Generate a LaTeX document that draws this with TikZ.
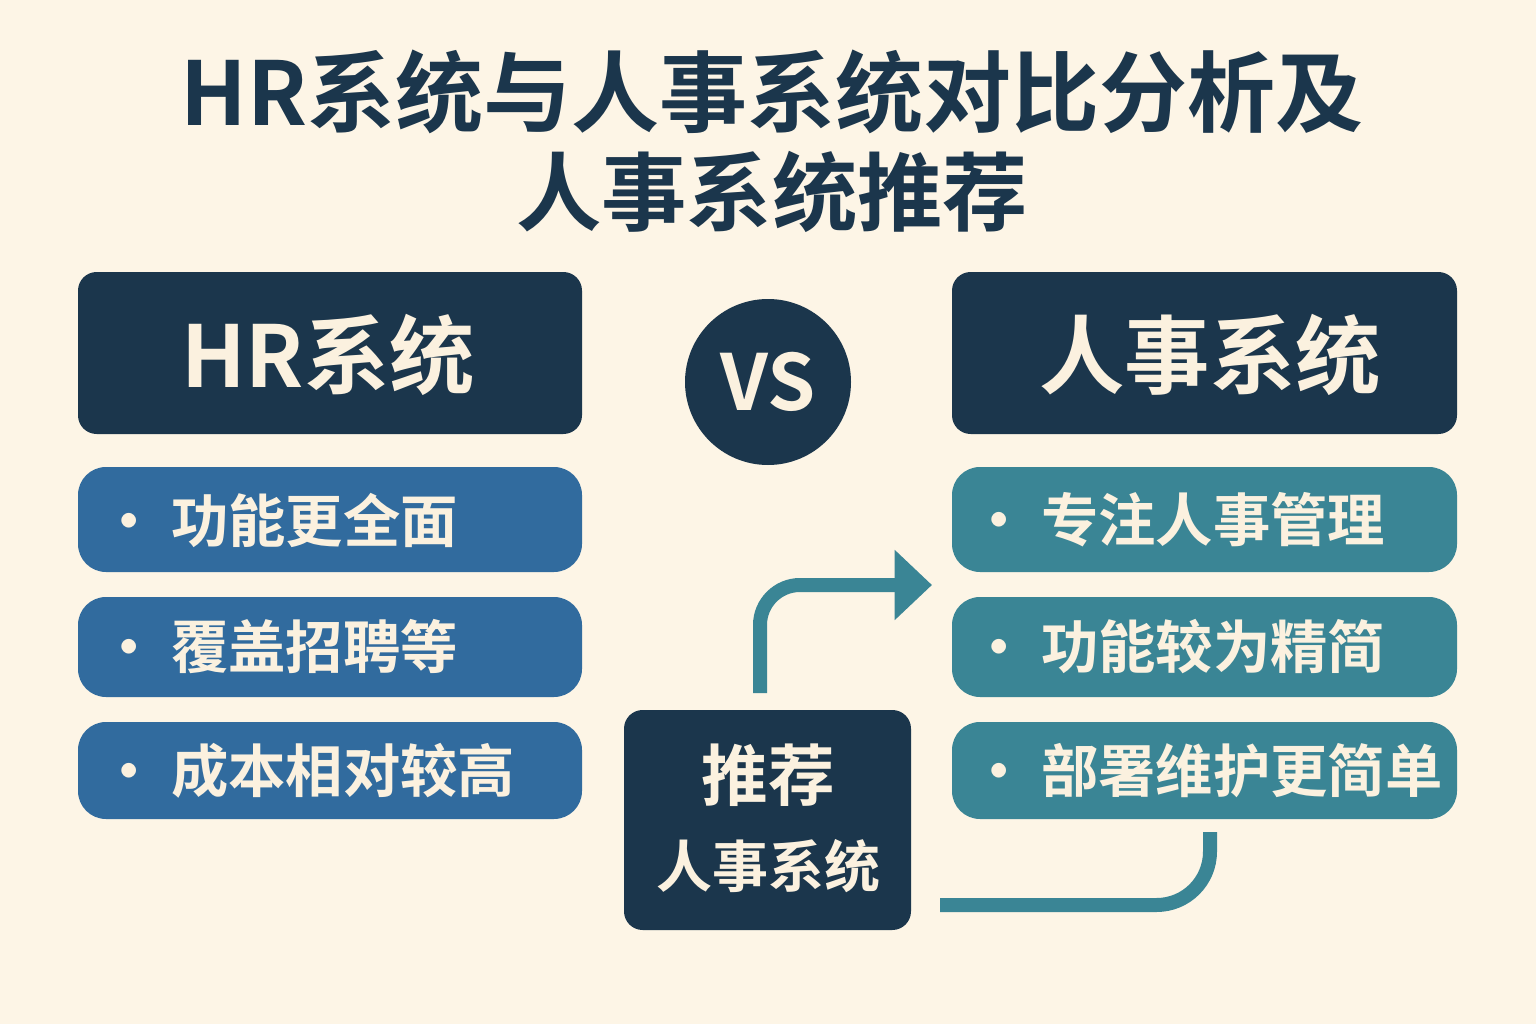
\documentclass[tikz,border=0pt]{standalone}
\usepackage{fontspec}
\setmainfont{Noto Sans CJK SC Bold}
\usetikzlibrary{arrows.meta}
\definecolor{bg}{HTML}{FDF5E6}
\definecolor{navy}{HTML}{1B364C}
\definecolor{blueb}{HTML}{316B9E}
\definecolor{tealb}{HTML}{3A8595}
\definecolor{cream}{HTML}{FBF1DF}
\tikzset{
  hdr/.style={fill=navy,rounded corners=14pt},
  itemL/.style={fill=blueb,rounded corners=21pt},
  itemR/.style={fill=tealb,rounded corners=21pt},
  itxt/.style={anchor=west,text=cream,font=\fontsize{43}{50}\selectfont},
  conn/.style={draw=tealb,line width=10.5pt}
}
\begin{document}
\begin{tikzpicture}[x=0.75pt,y=-0.75pt]
\fill[bg] (0,0) rectangle (1536,1024);
\useasboundingbox (0,0) rectangle (1536,1024);
\node[text=navy,font=\fontsize{66}{72}\selectfont] (t1) at (772,92) {HR系统与人事系统对比分析及};
\node[text=navy,font=\fontsize{64}{70}\selectfont] (t2) at (772,192) {人事系统推荐};
% headers
\path[hdr] (78,272) rectangle (582,434);
\node[text=cream,font=\fontsize{64}{70}\selectfont] (hl) at (328,355) {HR系统};
\path[hdr] (952,272) rectangle (1457,434);
\node[text=cream,font=\fontsize{64}{70}\selectfont] (hr) at (1210,355) {人事系统};
\node[circle,fill=navy,minimum size=124.5pt,inner sep=0,text=cream,font=\fontsize{58}{64}\selectfont] (vs) at (768,382) {VS};
% left items
\path[itemL] (78,467) rectangle (582,572);
\path[itemL] (78,597) rectangle (582,697);
\path[itemL] (78,722) rectangle (582,819);
\node[itxt] (l1) at (96,520) {• 功能更全面};
\node[itxt] (l2) at (96,647) {• 覆盖招聘等};
\node[itxt] (l3) at (96,771) {• 成本相对较高};
% right items
\path[itemR] (952,467) rectangle (1457,572);
\path[itemR] (952,597) rectangle (1457,697);
\path[itemR] (952,722) rectangle (1457,819);
\node[itxt] (r1) at (966,520) {• 专注人事管理};
\node[itxt] (r2) at (966,647) {• 功能较为精简};
\node[itxt] (r3) at (966,771) {• 部署维护更简单};
% recommend
\path[fill=navy,rounded corners=14pt] (624,710) rectangle (911,930);
\node[text=cream,font=\fontsize{50}{56}\selectfont] (rec1) at (768,775) {推荐};
\node[text=cream,font=\fontsize{42}{48}\selectfont] (rec2) at (768,866) {人事系统};
% connectors
\coordinate (a0) at (760,693);
\coordinate (a1) at (760,585);
\coordinate (a2) at (932,585);
\draw[conn,rounded corners=30pt,-{Triangle[length=28pt,width=51pt]}] (a0) -- (a1) -- (a2);
\coordinate (b0) at (940,905);
\coordinate (b1) at (1210,905);
\coordinate (b2) at (1210,832);
\draw[conn,rounded corners=40pt] (b0) -- (b1) -- (b2);
\end{tikzpicture}
\end{document}
